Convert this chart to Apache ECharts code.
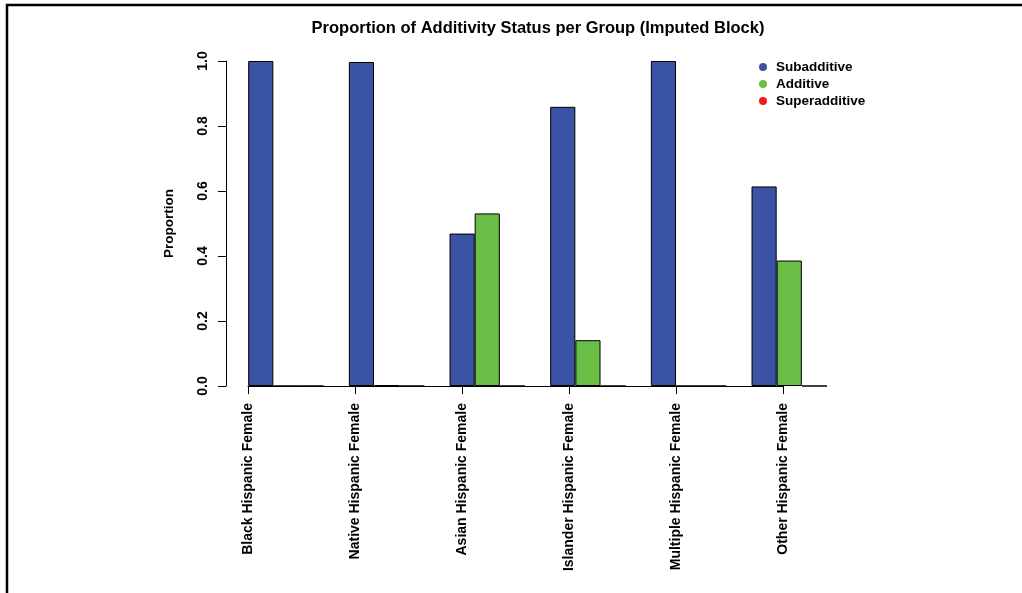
<!DOCTYPE html>
<html>
<head>
<meta charset="utf-8">
<script src="https://cdn.jsdelivr.net/npm/echarts@6/dist/echarts.min.js"></script>
<style>
  html, body { margin: 0; padding: 0; background: #fff; }
  #chart { width: 1022px; height: 593px; }
</style>
</head>
<body>
<div id="chart"></div>
<script>
const groups = [
  "Black Hispanic Female",
  "Native Hispanic Female",
  "Asian Hispanic Female",
  "Islander Hispanic Female",
  "Multiple Hispanic Female",
  "Other Hispanic Female",
];
const statusNames = ["Subadditive", "Additive", "Superadditive"];
const subadditive = [1.0, 0.997, 0.469, 0.859, 1.0, 0.614];
const additive = [0.0, 0.003, 0.531, 0.141, 0.0, 0.386];
const superadditive = [0, 0, 0, 0, 0, 0];
const yTicks = [0, 0.2, 0.4, 0.6, 0.8, 1.0];

const colors = ["#3a53a4", "#6abd45", "#ed1c24"];
const font = "'Liberation Sans', Arial, Helvetica, sans-serif";

const chart = echarts.init(document.getElementById("chart"));

const barSeries = [subadditive, additive, superadditive].map((vals, i) => ({
  name: statusNames[i],
  type: "bar",
  data: vals,
  xAxisIndex: 0,
  yAxisIndex: 0,
  barGap: 0,
  barCategoryGap: "25%",
  itemStyle: { color: colors[i], borderColor: "#000", borderWidth: 1 },
  emphasis: { disabled: true },
  animation: false,
}));

const opt = {
  backgroundColor: "#fff",
  animation: false,
  title: {
    text: "Proportion of Additivity Status per Group (Imputed Block)",
    left: 533,
    textAlign: "center",
    top: 15,
    textStyle: { fontFamily: font, fontSize: 16.5, fontWeight: "bold", color: "#000" },
  },
  legend: {
    data: statusNames.map((n, i) => ({ name: n, itemStyle: { color: colors[i], borderWidth: 0 } })),
    orient: "vertical",
    left: 754,
    top: 55,
    icon: "circle",
    itemWidth: 8,
    itemHeight: 8,
    itemGap: 3,
    textStyle: { fontFamily: font, fontSize: 13.5, lineHeight: 14, fontWeight: "bold", color: "#000", padding: [0, 0, 0, 4] },
  },
  grid: [
    { left: 235.6, right: 182.4, top: 61, height: 325 },
    { left: 248, right: 239, top: 61, height: 325 },
  ],
  xAxis: [
    {
      type: "category",
      gridIndex: 0,
      data: groups,
      show: false,
    },
    {
      type: "category",
      gridIndex: 1,
      data: groups,
      boundaryGap: false,
      offset: 3,
      axisLine: { show: true, lineStyle: { color: "#000", width: 1 } },
      axisTick: { show: true, length: 8, alignWithLabel: true, lineStyle: { color: "#000" } },
      axisLabel: {
        interval: 0,
        rotate: 90,
        margin: 14,
        fontFamily: font,
        fontSize: 14,
        fontWeight: "bold",
        color: "#000",
      },
    },
  ],
  yAxis: [
    {
      type: "value",
      gridIndex: 0,
      min: 0,
      max: 1,
      interval: 0.2,
      offset: 9.6,
      name: "Proportion",
      nameLocation: "middle",
      nameRotate: 90,
      nameGap: 50,
      nameTextStyle: { fontFamily: font, fontSize: 13.5, fontWeight: "bold", color: "#000" },
      splitLine: { show: false },
      axisLine: { show: true, lineStyle: { color: "#000", width: 1 } },
      axisTick: { show: true, length: 8, lineStyle: { color: "#000" } },
      axisLabel: {
        rotate: 90,
        align: "center",
        verticalAlign: "bottom",
        margin: 16,
        fontFamily: font,
        fontSize: 14,
        fontWeight: "bold",
        color: "#000",
        formatter: (v) => v.toFixed(1),
      },
    },
    {
      type: "value",
      gridIndex: 1,
      show: false,
      min: 0,
      max: 1,
    },
  ],
  graphic: [
    {
      type: "polyline",
      shape: { points: [[7, 593], [7, 5], [1022, 5]] },
      style: { stroke: "#000", lineWidth: 2.5, fill: null },
      silent: true,
    },
  ],
  series: barSeries,
};

chart.setOption(opt);
</script>
</body>
</html>
